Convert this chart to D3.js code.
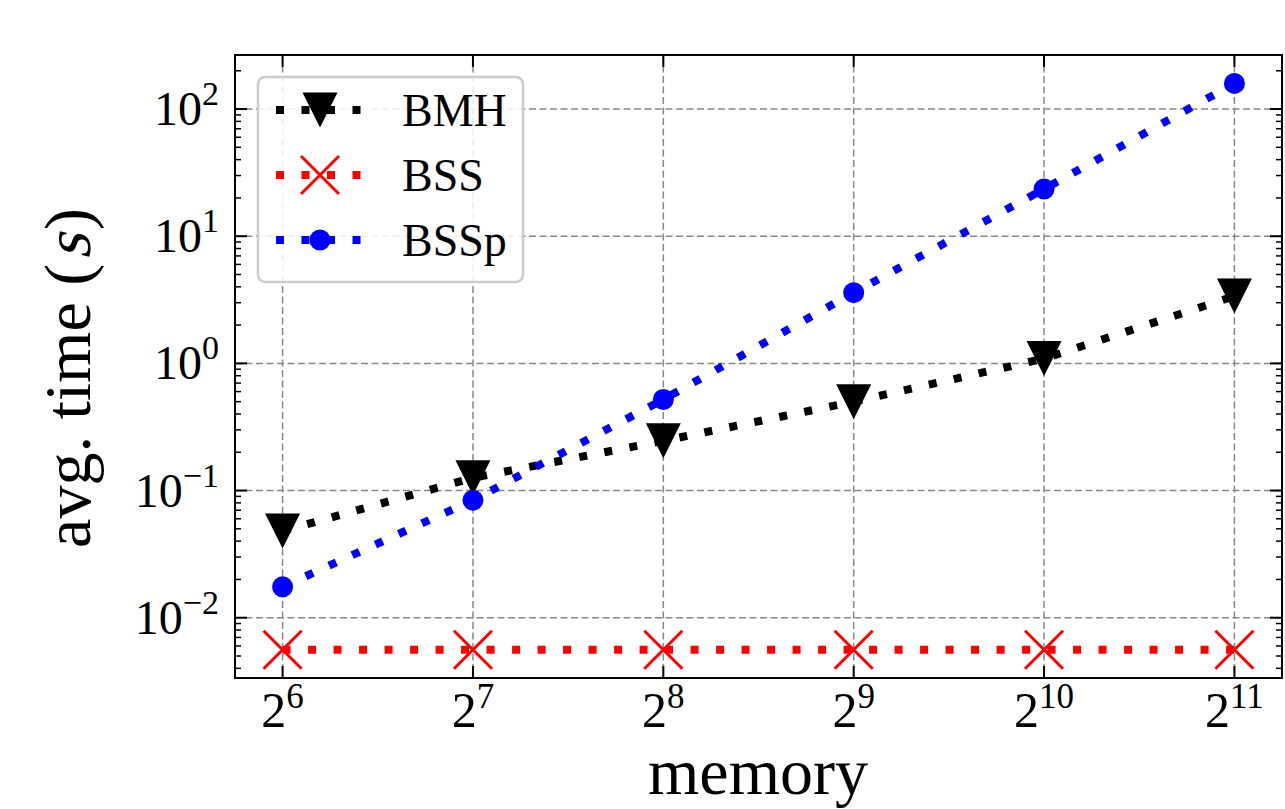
<!DOCTYPE html>
<html>
<head>
<meta charset="utf-8">
<script src="https://cdn.jsdelivr.net/npm/d3@7"></script>
<style>
  html, body { margin: 0; padding: 0; background: #fff; }
  svg { display: block; font-family: "Liberation Serif", "DejaVu Serif", serif; }
</style>
</head>
<body>
<svg id="chart" width="1285" height="809"></svg>
<script>
// ---- data ----
const memoryExp = [6, 7, 8, 9, 10, 11];
const memory = memoryExp.map(e => Math.pow(2, e));
const bmh  = [0.048, 0.126, 0.246, 0.50, 1.09, 3.38];
const bss  = [0.0056, 0.0056, 0.0056, 0.0056, 0.0056, 0.0056];
const bssp = [0.0175, 0.084, 0.52, 3.6, 23.5, 159];
const seriesNames = ["BMH", "BSS", "BSSp"];
const yTickExp = [-2, -1, 0, 1, 2];

(function () {
// ---- layout ----
const pLeft = 235, pRight = 1282, pTop = 55, pBottom = 678;
const svg = d3.select("#chart");

const x = d3.scaleLog().base(2)
  .domain([Math.pow(2, 5.75), Math.pow(2, 11.25)])
  .range([pLeft, pRight]);
const y = d3.scaleLog()
  .domain([Math.pow(10, -2.474), Math.pow(10, 2.425)])
  .range([pBottom, pTop]);

const gridColor = "#888888";
const grid = svg.append("g");
memory.forEach(m => {
  grid.append("line").attr("x1", x(m)).attr("x2", x(m)).attr("y1", pTop).attr("y2", pBottom)
    .attr("stroke", gridColor).attr("stroke-width", 1.5).attr("stroke-dasharray", "7,3.5");
});
yTickExp.forEach(e => {
  const v = Math.pow(10, e);
  grid.append("line").attr("x1", pLeft).attr("x2", pRight).attr("y1", y(v)).attr("y2", y(v))
    .attr("stroke", gridColor).attr("stroke-width", 1.5).attr("stroke-dasharray", "7,3.5");
});

// ticks (inward, all sides)
const ticks = svg.append("g").attr("stroke", "#000");
const majorLen = 12, minorLen = 6;
memory.forEach(m => {
  ticks.append("line").attr("x1", x(m)).attr("x2", x(m)).attr("y1", pBottom).attr("y2", pBottom - majorLen).attr("stroke-width", 2);
  ticks.append("line").attr("x1", x(m)).attr("x2", x(m)).attr("y1", pTop).attr("y2", pTop + majorLen).attr("stroke-width", 2);
});
const yd = y.domain();
for (let e = -3; e <= 2; e++) {
  for (let k = 1; k <= 9; k++) {
    const v = k * Math.pow(10, e);
    if (v < yd[0] || v > yd[1]) continue;
    const len = k === 1 ? majorLen : minorLen;
    const w = k === 1 ? 2 : 1.5;
    ticks.append("line").attr("x1", pLeft).attr("x2", pLeft + len).attr("y1", y(v)).attr("y2", y(v)).attr("stroke-width", w);
    ticks.append("line").attr("x1", pRight).attr("x2", pRight - len).attr("y1", y(v)).attr("y2", y(v)).attr("stroke-width", w);
  }
}

// tick labels
const yLab = svg.append("g");
yTickExp.forEach(e => {
  const t = yLab.append("text").attr("x", 219).attr("y", y(Math.pow(10, e)) + 16)
    .attr("text-anchor", "end").attr("font-size", 48).attr("fill", "#000");
  t.append("tspan").text("10");
  t.append("tspan").attr("dy", -20).attr("font-size", 34).text(e < 0 ? "\u2212" + Math.abs(e) : String(e));
});
const xLab = svg.append("g");
memoryExp.forEach((e, i) => {
  const t = xLab.append("text").attr("x", x(memory[i])).attr("y", 727)
    .attr("text-anchor", "middle").attr("font-size", 50).attr("fill", "#000");
  t.append("tspan").text("2");
  t.append("tspan").attr("dy", -19).attr("font-size", 35).text(String(e));
});

// axis labels
svg.append("text").attr("x", 758).attr("y", 794).attr("text-anchor", "middle")
  .attr("font-size", 66).attr("fill", "#000").text("memory");

// y label: "avg. time (s)" with slanted s, built from pieces
const ylg = svg.append("g").attr("transform", "translate(90,378) rotate(-90)");
const partA = ylg.append("text").attr("font-size", 66).attr("fill", "#000").text("avg. time (");
const partS = ylg.append("text").attr("font-size", 66).attr("fill", "#000").text("s");
const partC = ylg.append("text").attr("font-size", 66).attr("fill", "#000").text(")");
const wA = partA.node().getComputedTextLength();
const wS = partS.node().getComputedTextLength();
const wC = partC.node().getComputedTextLength();
const gapS = 4;
const total = wA + gapS + wS + gapS + wC;
const x0 = -total / 2;
partA.attr("x", x0);
partS.attr("transform", `translate(${x0 + wA + gapS},0) skewX(-14)`);
partC.attr("x", x0 + wA + gapS + wS + gapS);

// ---- series ----
const colors = { BMH: "#000000", BSS: "#ff0000", BSSp: "#0000ff" };
const valuesBy = { BMH: bmh, BSS: bss, BSSp: bssp };
const dash = "8,17.5";

function drawMarker(g, name, cx, cy) {
  const c = colors[name];
  if (name === "BMH") {
    const s = 17.5;
    g.append("path").attr("d", `M${cx - s},${cy - s}L${cx + s},${cy - s}L${cx},${cy + s}Z`).attr("fill", c);
  } else if (name === "BSS") {
    const s = 19;
    g.append("path").attr("d", `M${cx - s},${cy - s}L${cx + s},${cy + s}M${cx - s},${cy + s}L${cx + s},${cy - s}`)
      .attr("stroke", c).attr("stroke-width", 3).attr("fill", "none");
  } else {
    g.append("circle").attr("cx", cx).attr("cy", cy).attr("r", 10.5).attr("fill", c);
  }
}

const plot = svg.append("g");
const line = d3.line().x(d => x(d[0])).y(d => y(d[1]));
seriesNames.forEach(name => {
  const pts = memory.map((m, i) => [m, valuesBy[name][i]]);
  const g = plot.append("g");
  g.append("path").attr("d", line(pts)).attr("fill", "none")
    .attr("stroke", colors[name]).attr("stroke-width", 8).attr("stroke-dasharray", dash);
  pts.forEach(p => drawMarker(g, name, x(p[0]), y(p[1])));
});

// spines
svg.append("rect").attr("x", pLeft).attr("y", pTop).attr("width", pRight - pLeft).attr("height", pBottom - pTop)
  .attr("fill", "none").attr("stroke", "#000").attr("stroke-width", 2);

// ---- legend ----
const lg = svg.append("g");
lg.append("rect").attr("x", 258).attr("y", 77).attr("width", 265).attr("height", 205)
  .attr("rx", 7).attr("fill", "#fff").attr("fill-opacity", 0.85)
  .attr("stroke", "#cccccc").attr("stroke-width", 2.5);
seriesNames.forEach((name, i) => {
  const cy = 110 + i * 65;
  lg.append("line").attr("x1", 276).attr("x2", 364).attr("y1", cy).attr("y2", cy)
    .attr("stroke", colors[name]).attr("stroke-width", 8).attr("stroke-dasharray", dash);
  drawMarker(lg, name, 320, cy);
  lg.append("text").attr("x", 402).attr("y", cy + 16).attr("font-size", 46).attr("fill", "#000").text(name);
});
})();
</script>
</body>
</html>
